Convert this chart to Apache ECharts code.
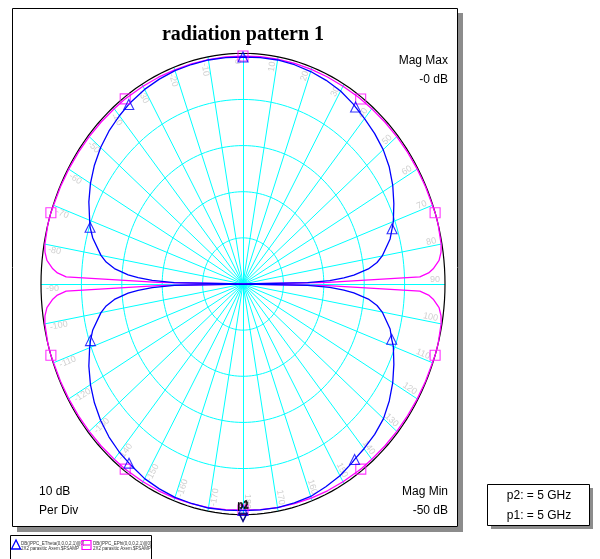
<!DOCTYPE html>
<html><head><meta charset="utf-8">
<script src="https://cdn.jsdelivr.net/npm/echarts@6/dist/echarts.min.js"></script>
<style>html,body{margin:0;padding:0;background:#fff}#c{width:600px;height:559px}</style>
</head><body><div id="c"></div>
<script>
// ---- data ----
const angles = [
  -180,-175,-170,-165,-160,-155,-150,-145,-144,-140,-135,-130,-125,-120,-115,-110,-108,-105,-100,-98,-96,-94,-93,-92,-91,-90,
  -89,-88,-87,-86,-84,-82,-80,-75,-72,-70,-65,-60,-55,-50,-45,-40,-36,-35,-30,-25,-20,-15,-10,-5,
  0,5,10,15,20,25,30,35,36,40,45,50,55,60,65,70,72,75,80,82,84,86,87,88,89,90,
  91,92,93,94,96,98,100,105,108,110,115,120,125,130,135,140,144,145,150,155,160,165,170,175,180];
const eTheta = [
  -0.9,-0.8,-0.7,-0.75,-0.8,-1.0,-1.3,-1.9,-2.0,-2.4,-3.1,-4.0,-5.1,-6.4,-7.9,-9.6,-10.3,-11.5,-14.3,-15.8,-18.0,-21.5,-24.0,-27.5,-33.0,-50,
  -33.0,-27.5,-24.0,-21.5,-18.0,-15.8,-14.3,-11.5,-10.2,-9.6,-7.9,-6.4,-5.1,-4.0,-3.1,-2.4,-1.9,-1.8,-1.3,-1.0,-0.8,-0.75,-0.7,-0.75,
  -0.8,-0.75,-0.7,-0.8,-1.0,-1.3,-1.7,-2.4,-2.6,-3.2,-3.9,-4.7,-5.8,-7.2,-8.8,-10.4,-11.2,-12.3,-15.0,-16.5,-18.8,-22.5,-25.0,-28.5,-34.0,-50,
  -34.0,-28.5,-25.0,-22.5,-18.8,-16.5,-15.0,-12.3,-11.3,-10.4,-8.8,-7.2,-5.8,-4.6,-3.9,-3.4,-3.0,-2.8,-2.0,-1.5,-1.0,-0.9,-0.8,-0.85,-0.9];
const ePhi = [
  -1.0,-0.9,-0.8,-0.7,-0.6,-0.55,-0.5,-0.45,-0.4,-0.4,-0.35,-0.3,-0.25,-0.2,-0.15,-0.1,0.0,0.0,-0.2,-0.5,-1.2,-2.8,-4.0,-6.2,-29.0,-50,
  -29.0,-6.2,-4.0,-2.8,-1.2,-0.5,-0.2,0.0,0.0,-0.1,-0.15,-0.2,-0.25,-0.3,-0.35,-0.4,-0.4,-0.45,-0.5,-0.55,-0.6,-0.6,-0.6,-0.6,
  -0.6,-0.55,-0.5,-0.5,-0.5,-0.5,-0.5,-0.45,-0.45,-0.4,-0.35,-0.3,-0.25,-0.2,-0.15,-0.1,0.0,0.0,-0.2,-0.5,-1.2,-2.8,-4.0,-6.2,-29.0,-50,
  -29.0,-6.2,-4.0,-2.8,-1.2,-0.5,-0.2,0.0,0.0,-0.1,-0.15,-0.2,-0.25,-0.3,-0.35,-0.4,-0.4,-0.45,-0.5,-0.55,-0.6,-0.7,-0.8,-0.9,-1.0];
const markerAngles = [-144,-108,-72,-36,0,36,72,108,144,180];
const pMarkerAngles = [180];
const ringTicks = [-40,-30,-20,-10];
const spokeAngles = [-170,-160,-150,-140,-130,-120,-110,-100,-90,-80,-70,-60,-50,-40,-30,-20,-10,0,10,20,30,40,50,60,70,80,90,100,110,120,130,140,150,160,170,180];
const MAG_MAX = 0, MAG_MIN = -50;
const legendNames = ['DB(|PPC_ETheta(0,0,0,2,1)|)[0]','DB(|PPC_EPhi(0,0,0,2,1)|)[0]'];
const legendSub = '2X2 parasitic Axem.$FSAMP';

// ---- layout ----
const CX = 243, CY = 284, RX = 202, RY = 230.7;

function toXY(a, db){
  const r = Math.max(0, (db - MAG_MIN) / (MAG_MAX - MAG_MIN));
  const t = a * Math.PI / 180;
  return [r * Math.sin(t), r * Math.cos(t)];
}
const thetaXY = angles.map((a,i)=>toXY(a, eTheta[i]));
const phiXY = angles.map((a,i)=>toXY(a, ePhi[i]));

function ring(db){
  const pts = [];
  for (let a = 0; a <= 360; a += 2) pts.push(toXY(a, db));
  return pts;
}
const ringData = ringTicks.map(db => ({coords: ring(db)}));
const spokeData = spokeAngles.map(a => ({coords: [[0,0], toXY(a, MAG_MAX)]}));

const labelData = spokeAngles.map(a => {
  const th = a * Math.PI / 180;
  let phi = Math.atan2(RY * Math.cos(th), RX * Math.sin(th)) * 180 / Math.PI;
  let right = true;
  if (phi > 90.5 || phi < -90.5) { phi = phi > 0 ? phi - 180 : phi + 180; right = false; }
  return {
    name: String(a),
    value: toXY(a, MAG_MIN + 0.975 * (MAG_MAX - MAG_MIN)),
    label: {rotate: phi, align: right ? 'right' : 'left', verticalAlign: right ? 'bottom' : 'top'}
  };
});

const idx = a => angles.indexOf(a);
const thetaMarks = markerAngles.map(a => toXY(a, eTheta[idx(a)]));
const phiMarks = markerAngles.map(a => toXY(a, ePhi[idx(a)]));

const chart = echarts.init(document.getElementById('c'));
const FONT = '"Liberation Sans", Arial, sans-serif';
chart.setOption({
  animation: false,
  grid: {left: CX - RX, top: CY - RY, width: 2 * RX, height: 2 * RY},
  xAxis: {type: 'value', min: -1, max: 1, show: false},
  yAxis: {type: 'value', min: -1, max: 1, show: false},
  series: [
    {type: 'lines', coordinateSystem: 'cartesian2d', polyline: true, silent: true, z: 1,
     data: ringData, lineStyle: {color: '#00ffff', width: 1, opacity: 1}},
    {type: 'lines', coordinateSystem: 'cartesian2d', polyline: false, silent: true, z: 1,
     data: spokeData, lineStyle: {color: '#00ffff', width: 1, opacity: 1}},
    {type: 'lines', coordinateSystem: 'cartesian2d', polyline: true, silent: true, z: 2,
     data: [{coords: ring(MAG_MAX)}], lineStyle: {color: '#000000', width: 1.2, opacity: 1}},
    {type: 'scatter', silent: true, z: 2, symbolSize: 1, itemStyle: {color: 'rgba(0,0,0,0)'},
     data: labelData,
     label: {show: true, position: 'inside', formatter: '{b}', color: '#c4c4c4', fontSize: 9, fontFamily: FONT}},
    {name: legendNames[1], type: 'line', data: phiXY, showSymbol: false, z: 3,
     lineStyle: {color: '#ff00ff', width: 1.3}},
    {name: legendNames[0], type: 'line', data: thetaXY, showSymbol: false, z: 4,
     lineStyle: {color: '#0000ff', width: 1.3}},
    {type: 'scatter', z: 5, data: phiMarks, symbol: 'rect', symbolSize: 10,
     itemStyle: {color: 'rgba(0,0,0,0)', borderColor: '#ff00ff', borderWidth: 1.1}},
    {type: 'scatter', z: 6, data: thetaMarks, symbol: 'triangle', symbolSize: [10, 10],
     itemStyle: {color: 'rgba(0,0,0,0)', borderColor: '#0000ff', borderWidth: 1.1}},
    {type: 'scatter', z: 7, symbol: 'triangle', symbolRotate: 180, symbolSize: [8, 8], symbolOffset: [0, 7],
     itemStyle: {color: 'rgba(0,0,0,0)', borderColor: '#000080', borderWidth: 1.2},
     data: [
       {name: 'p1', value: toXY(pMarkerAngles[0], ePhi[idx(pMarkerAngles[0])])},
       {name: 'p2', value: toXY(pMarkerAngles[0], eTheta[idx(pMarkerAngles[0])])}
     ],
     label: {show: true, position: 'top', distance: 2, formatter: '{b}', color: '#000', fontSize: 10, fontWeight: 'bold', fontFamily: FONT}}
  ],
  graphic: [
    {type: 'rect', shape: {x: 458, y: 13, width: 5, height: 518}, style: {fill: '#8c8c8c'}, silent: true},
    {type: 'rect', shape: {x: 17, y: 527, width: 446, height: 5}, style: {fill: '#8c8c8c'}, silent: true},
    {type: 'rect', shape: {x: 12.5, y: 8.5, width: 445, height: 518}, style: {fill: 'none', stroke: '#000', lineWidth: 1}, silent: true},
    {type: 'text', style: {text: 'radiation pattern 1', x: 243, y: 35, textAlign: 'center', textVerticalAlign: 'middle', font: 'bold 20px "Liberation Serif", "Times New Roman", serif', fill: '#000'}},
    {type: 'text', style: {text: 'Mag Max', x: 448, y: 61, textAlign: 'right', textVerticalAlign: 'middle', font: '12px ' + FONT, fill: '#000'}},
    {type: 'text', style: {text: '-0 dB', x: 448, y: 80, textAlign: 'right', textVerticalAlign: 'middle', font: '12px ' + FONT, fill: '#000'}},
    {type: 'text', style: {text: 'Mag Min', x: 448, y: 492, textAlign: 'right', textVerticalAlign: 'middle', font: '12px ' + FONT, fill: '#000'}},
    {type: 'text', style: {text: '-50 dB', x: 448, y: 511, textAlign: 'right', textVerticalAlign: 'middle', font: '12px ' + FONT, fill: '#000'}},
    {type: 'text', style: {text: '10 dB', x: 39, y: 492, textAlign: 'left', textVerticalAlign: 'middle', font: '12px ' + FONT, fill: '#000'}},
    {type: 'text', style: {text: 'Per Div', x: 39, y: 511, textAlign: 'left', textVerticalAlign: 'middle', font: '12px ' + FONT, fill: '#000'}},
    // marker box
    {type: 'rect', shape: {x: 491, y: 488, width: 102, height: 41}, style: {fill: '#8c8c8c'}, silent: true},
    {type: 'rect', shape: {x: 487.5, y: 484.5, width: 102, height: 41}, style: {fill: '#fff', stroke: '#000', lineWidth: 1}, silent: true},
    {type: 'text', style: {text: 'p2: = 5 GHz', x: 539, y: 496, textAlign: 'center', textVerticalAlign: 'middle', font: '12px ' + FONT, fill: '#000'}},
    {type: 'text', style: {text: 'p1: = 5 GHz', x: 539, y: 516, textAlign: 'center', textVerticalAlign: 'middle', font: '12px ' + FONT, fill: '#000'}},
    // legend box
    {type: 'rect', shape: {x: 10.5, y: 535.5, width: 141, height: 30}, style: {fill: 'none', stroke: '#000', lineWidth: 1}, silent: true},
    {type: 'polygon', shape: {points: [[16, 540], [11.5, 549], [20.5, 549]]}, style: {fill: 'none', stroke: '#0000ff', lineWidth: 1.3}, silent: true},
    {type: 'text', style: {text: legendNames[0], x: 21, y: 543.5, textAlign: 'left', textVerticalAlign: 'middle', font: '4.5px ' + FONT, fill: '#333'}},
    {type: 'text', style: {text: legendSub, x: 21, y: 549, textAlign: 'left', textVerticalAlign: 'middle', font: '4.5px ' + FONT, fill: '#333'}},
    {type: 'rect', shape: {x: 82, y: 540.5, width: 9, height: 9}, style: {fill: 'none', stroke: '#ff00ff', lineWidth: 1.2}, silent: true},
    {type: 'line', shape: {x1: 83, y1: 545, x2: 90, y2: 545}, style: {stroke: '#ff00ff', lineWidth: 1.2}, silent: true},
    {type: 'text', style: {text: legendNames[1], x: 93, y: 543.5, textAlign: 'left', textVerticalAlign: 'middle', font: '4.5px ' + FONT, fill: '#333'}},
    {type: 'text', style: {text: legendSub, x: 93, y: 549, textAlign: 'left', textVerticalAlign: 'middle', font: '4.5px ' + FONT, fill: '#333'}}
  ]
});
</script>
</body></html>
